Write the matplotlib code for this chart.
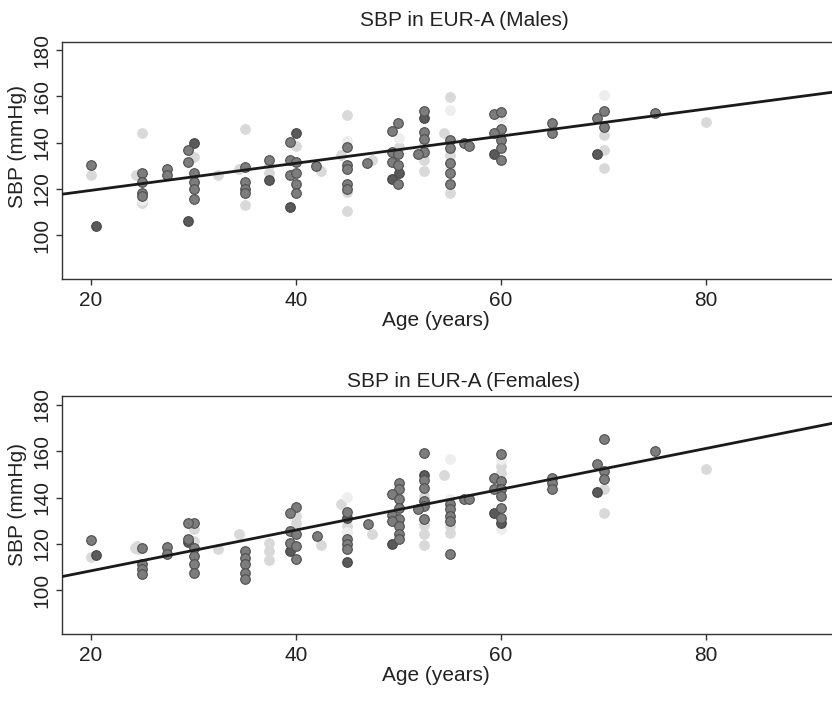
import numpy as np
import matplotlib
matplotlib.use("Agg")
import matplotlib.pyplot as plt

plt.rcParams['font.family'] = ['Liberation Sans', 'DejaVu Sans']

# (age, SBP) pairs per shade group
males_dark = [(20.5, 103.9), (29.5, 106), (30, 140), (37.4, 123.8), (40, 144), (39.4, 112),
              (50, 126.7), (49.4, 124.1), (52.5, 150.5), (59.3, 135), (69.4, 134.9)]
males_medium = [(20, 130.3), (25, 126.7), (25, 122.8), (25, 118), (25, 117), (27.4, 128.8),
                (27.4, 126.2), (29.5, 137), (29.5, 131.4), (30, 127), (30, 123), (30, 120),
                (30, 115.6), (35, 129.5), (35, 123), (35, 119.9), (35, 118), (37.4, 132.4),
                (39.4, 140.3), (39.4, 132.4), (40, 131.7), (39.4, 126.2), (40, 127), (40, 122.3),
                (40, 118), (41.9, 130), (45, 138.2), (45, 130.3), (45, 128.8), (45, 122.3),
                (45, 119.9), (46.9, 131), (49.9, 148.3), (49.4, 145), (49.4, 136), (49.9, 134.9),
                (49.4, 131.7), (49.9, 130.3), (49.9, 121.9), (52.5, 153.6), (52.5, 144.7),
                (52.5, 141.5), (52.5, 136), (51.9, 134.9), (55, 141), (55, 137.5), (55, 131.3),
                (55, 127), (55, 122.3), (56.4, 140), (56.9, 138.5), (59.3, 152.2), (60, 153.3),
                (60, 146.1), (59.3, 144), (60, 141), (60, 137.5), (60, 132.4), (65, 148.3),
                (65, 144.2), (70, 153.6), (69.4, 150.5), (70, 146.8), (75, 152.6)]
males_light = [(20, 126.2), (24.4, 126), (25, 144), (25, 114), (30, 133.9), (32.4, 126.2),
               (35, 146.1), (34.4, 128.8), (35, 113), (37.4, 130.3), (37.4, 127), (40, 138.6),
               (42.4, 127.7), (45, 151.9), (44.4, 134.6), (45, 118.7), (45, 110.5), (47.4, 132.4),
               (50, 138.2), (52.5, 138.9), (52.5, 132.4), (52.5, 127.7), (55, 159.8), (54.4, 144),
               (55, 134.6), (55, 118.3), (70, 143.2), (70, 136.8), (70, 129.1), (80, 149)]
males_vlight = [(25, 115), (45, 140.6), (50, 142), (55, 154), (55, 128.8), (60, 150.7), (70, 160.8)]

females_dark = [(20.5, 115.2), (29.5, 120.7), (39.4, 116.9), (45, 131.3), (45, 112.2),
                (49.4, 120.1), (52.5, 149.6), (59.3, 133.5), (60, 129.2), (69.4, 142.4)]
females_medium = [(20, 121.7), (25, 118.4), (25, 111.2), (25, 109), (25, 106.9), (27.4, 118.8),
                  (27.4, 115.5), (30, 129.2), (29.5, 128.9), (29.5, 122.3), (30, 118.4),
                  (30, 114.8), (30, 111.2), (30, 107.6), (35, 116.9), (35, 114.1), (35, 111.2),
                  (35, 107.6), (35, 105), (40, 136), (39.4, 133.5), (39.4, 125.6), (40, 124.1),
                  (39.4, 120.6), (40, 119.1), (40, 113.4), (42, 123.4), (45, 133.7), (45, 122.3),
                  (45, 119.8), (45, 117.7), (47, 128.4), (50, 146.4), (50, 143.8), (49.4, 141.4),
                  (50, 139.2), (50, 135.6), (49.4, 132.3), (50, 130.6), (49.4, 129.9), (50, 127.7),
                  (50, 124.1), (50, 122), (52.5, 159.4), (52.5, 147.5), (52.5, 144.3),
                  (52.5, 138.5), (52.5, 136.3), (51.9, 134.9), (52.5, 130.6), (55, 137.1),
                  (55, 134.9), (55, 132), (55, 129.9), (55, 115.5), (56.4, 139.5), (56.9, 139.5),
                  (60, 158.9), (59.3, 148.6), (60, 147.1), (59.3, 143.8), (60, 143.5), (60, 140.6),
                  (60, 135.6), (60, 131.3), (65, 148.6), (65, 146.4), (65, 143.5), (70, 165.4),
                  (69.4, 154.3), (70, 151.4), (70, 147.8), (75, 160)]
females_light = [(20, 114.4), (24.3, 118.4), (24.6, 117.6), (24.5, 119.3), (30, 126.6), (30, 121.2),
                 (32.4, 117.7), (34.4, 124.1), (37.4, 120.6), (37.4, 116.9), (37.4, 113.1),
                 (40, 132), (40, 128.9), (42.4, 119.4), (44.4, 137.1), (45, 127.7), (47.4, 124.1),
                 (52.5, 140.6), (52.5, 128), (52.5, 124.1), (52.5, 119.4), (54.4, 149.6),
                 (55, 127.7), (55, 124.9), (60, 153.6), (60, 150.7), (70, 143.8), (70, 133.5),
                 (80, 152.2)]
females_vlight = [(45, 140.4), (45, 125.1), (50, 142.1), (55, 156.8), (55, 139.5), (60, 156.5),
                  (60, 126.3)]

# fitted lines: intercept, slope
males_fit = (107.6, 0.587)
females_fit = (90.8, 0.88)

x_ticks = [20, 40, 60, 80]
y_ticks = [100, 120, 140, 160, 180]

# face colour, edge colour per shade, drawn back to front
shades = [
    ('#d9d9d9', '#d9d9d9'),
    ('#eeeeee', '#eeeeee'),
    ('#5a5a5a', '#454545'),
    ('#7d7d7d', '#4f4f4f'),
]

W, H = 832, 712
fig = plt.figure(figsize=(W / 100, H / 100), dpi=100)
txt = '#222222'


def panel(rect, groups, fit, title, title_pad, ylab_y):
    ax = fig.add_axes(rect)
    for pts, (fc, ec) in zip(groups, shades):
        a = np.array(pts)
        ax.scatter(a[:, 0], a[:, 1], s=48, c=fc, edgecolors=ec, linewidths=0.8, zorder=2)
    xlim = (17.17, 95.6)
    xs = np.array(xlim)
    ax.plot(xs, fit[0] + fit[1] * xs, color='#1a1a1a', lw=2.0, zorder=3)
    ax.set_xlim(xlim)
    ax.set_ylim(81, 183.7)
    ax.set_xticks(x_ticks)
    ax.set_yticks(y_ticks)
    ax.tick_params(length=4.5, width=1.0, color='#333333', labelsize=15, labelcolor=txt)
    ax.tick_params(axis='y', pad=3)
    ax.tick_params(axis='x', pad=4)
    for lab in ax.get_yticklabels():
        lab.set_rotation(90)
        lab.set_va('center')
    for sp in ax.spines.values():
        sp.set_color('#333333')
        sp.set_linewidth(1.0)
    ax.set_title(title, fontsize=15, color=txt, pad=title_pad)
    ax.set_xlabel('Age (years)', fontsize=15, color=txt)
    ax.set_ylabel('SBP (mmHg)', fontsize=15, color=txt)
    ax.xaxis.set_label_coords((436 - 62) / (866 - 62), -0.135)
    ax.yaxis.set_label_coords(-0.044, ylab_y)
    ax.xaxis.label.set_va('top')
    return ax


left = 62 / W
width = (866 - 62) / W
panel([left, 1 - 279 / H, width, (279 - 41.6) / H],
      [males_light, males_vlight, males_dark, males_medium], males_fit,
      'SBP in EUR-A (Males)', 11, 0.56)
panel([left, 1 - 634.3 / H, width, (634.3 - 396.3) / H],
      [females_light, females_vlight, females_dark, females_medium], females_fit,
      'SBP in EUR-A (Females)', 6.5, 0.545)

fig.savefig('out.png', dpi=100)
